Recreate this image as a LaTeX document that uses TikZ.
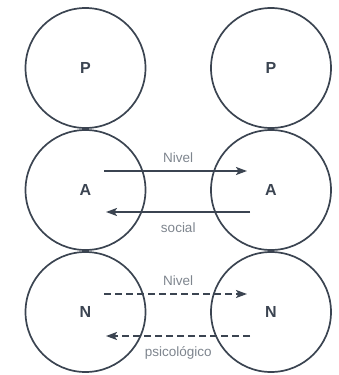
\documentclass[tikz,border=0pt]{standalone}
\usepackage{fontspec}
\setmainfont{Liberation Sans}
\usetikzlibrary{positioning, calc, arrows.meta}
\definecolor{Ink}{HTML}{3B4451}
\definecolor{Soft}{HTML}{7E858E}
\tikzset{
    level/.style={circle, draw=Ink, line width=1.7pt, minimum size=120pt, inner sep=0pt, text=Ink, font=\bfseries\fontsize{16}{16}\selectfont},
    link/.style={-{Stealth[length=11pt, width=8pt, inset=2.5pt]}, line width=1.7pt, color=Ink},
    dlink/.style={link, dash pattern=on 7pt off 4pt},
    tag/.style={text=Soft, inner sep=0pt, font=\fontsize{13.5}{14}\selectfont},
}

\begin{document}
\begin{tikzpicture}[x=1pt, y=-1pt]
    \useasboundingbox (0,0) rectangle (338,375);

    % Cerchi
    \node[level] (pL) at (85.5,68) {P};
    \node[level] (pR) at (271,68) {P};
    \node[level] (aL) at (85.5,190) {A};
    \node[level] (aR) at (271,190) {A};
    \node[level] (nL) at (85.5,312) {N};
    \node[level] (nR) at (271,312) {N};

    % Livello sociale
    \coordinate (aOut) at ($(aL)+(18.5,-19)$);
    \coordinate (aIn)  at ($(aR)+(-24,-19)$);
    \coordinate (aBack) at ($(aR)+(-21,22)$);
    \coordinate (aHome) at ($(aL)+(20.5,22)$);
    \draw[link] (aOut) -- (aIn);
    \draw[link] (aBack) -- (aHome);
    \node[tag] (sTop) at ($(aL)!0.5!(aR)+(0,-32)$) {Nivel};
    \node[tag] (sBot) at ($(aL)!0.5!(aR)+(0,38)$) {social};

    % Livello psicologico
    \coordinate (nOut) at ($(nL)+(18.5,-18)$);
    \coordinate (nIn)  at ($(nR)+(-24,-18)$);
    \coordinate (nBack) at ($(nR)+(-21,24)$);
    \coordinate (nHome) at ($(nL)+(20.5,24)$);
    \draw[dlink] (nOut) -- (nIn);
    \draw[dlink] (nBack) -- (nHome);
    \node[tag] (pTop) at ($(nL)!0.5!(nR)+(0,-31)$) {Nivel};
    \node[tag, anchor=base] (pBot) at ($(nL)!0.5!(nR)+(0,44)$) {psicológico};
\end{tikzpicture}
\end{document}
